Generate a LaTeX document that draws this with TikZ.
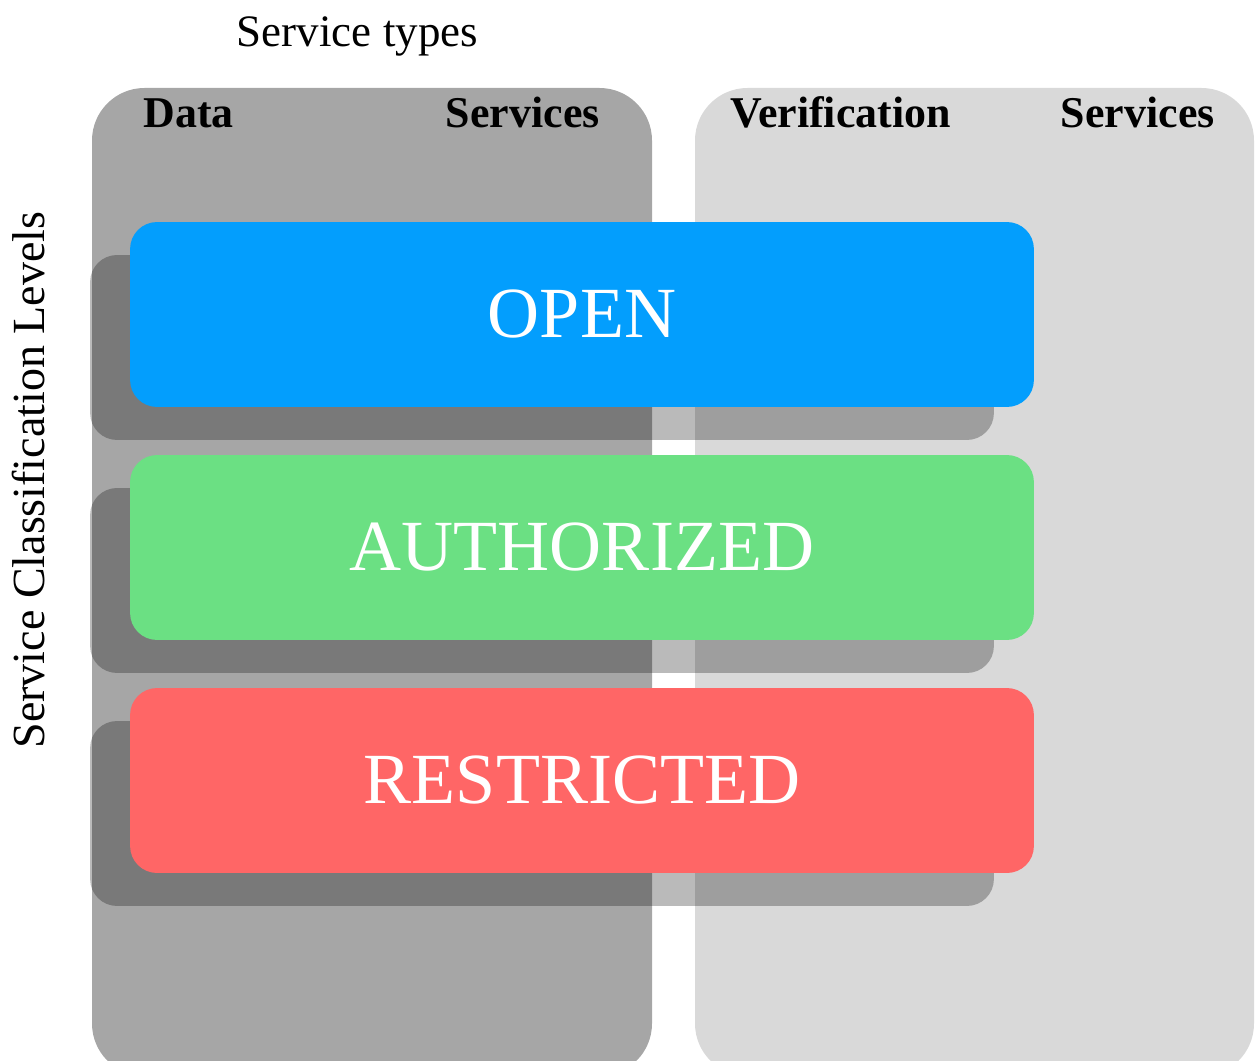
\documentclass[tikz,border=0pt]{standalone}
\usepackage{fontspec}
\setmainfont{Liberation Serif}
\usetikzlibrary{shadows}

\definecolor{openblue}{RGB}{3,158,253}
\definecolor{authgreen}{RGB}{107,224,131}
\definecolor{restrred}{RGB}{255,102,102}
\definecolor{datagray}{RGB}{166,166,166}
\definecolor{verigray}{RGB}{217,217,217}

\tikzset{
  column/.style={rounded corners=1.05cm},
  colhead/.style={inner sep=0pt, font=\fontsize{25}{25}\selectfont\bfseries},
  level/.style={rectangle, rounded corners=0.54cm, minimum width=18.08cm,
    minimum height=3.7cm, inner sep=0pt, text=white,
    font=\fontsize{41}{41}\selectfont,
    drop shadow={shadow xshift=-0.8cm, shadow yshift=-0.66cm, fill=black, opacity=0.27}}
}

\begin{document}
\begin{tikzpicture}[x=0.02cm, y=-0.02cm]

\useasboundingbox (0,0) rectangle (1259,1061);
\clip (0,0) rectangle (1259,1061);

% service type columns
\fill [column, datagray] (92,88) rectangle (652,1076);
\fill [column, verigray] (695,88) rectangle (1254,1076);

\node[colhead, anchor=base west] (data) at (143,128) {Data};
\node[colhead, anchor=base east] (dataserv) at (600,128) {Services};
\node[colhead, anchor=base west] (verif) at (730,128) {Verification};
\node[colhead, anchor=base east] (verifserv) at (1215,128) {Services};

% classification levels
\node[level, fill=openblue] (open) at (582,314.5) {OPEN};
\node[level, fill=authgreen] (auth) at (582,547.5) {AUTHORIZED};
\node[level, fill=restrred] (restr) at (582,780.5) {RESTRICTED};

% axis titles
\node[inner sep=0pt, anchor=base, font=\fontsize{25.6}{25.6}\selectfont] (types) at (357.5,47) {Service types};
\node[inner sep=0pt, anchor=base, rotate=90, font=\fontsize{26.2}{26.2}\selectfont] (levels) at (45,480) {Service Classification Levels};

\end{tikzpicture}
\end{document}
